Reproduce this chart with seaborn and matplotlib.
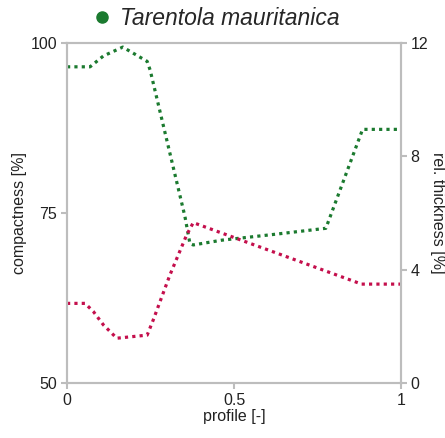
import matplotlib
matplotlib.use("Agg")
import matplotlib.pyplot as plt
import seaborn as sns
import pandas as pd
from matplotlib.lines import Line2D

# data
profile_c = [0.0, 0.069, 0.109, 0.167, 0.24, 0.249, 0.353, 0.368, 0.378, 0.463, 0.628, 0.775, 0.885, 1.0]
compactness = [96.5, 96.5, 98.1, 99.4, 97.3, 96.0, 74.5, 70.5, 70.3, 71.0, 71.9, 72.75, 87.3, 87.3]

profile_t = [0.0, 0.054, 0.079, 0.109, 0.149, 0.24, 0.258, 0.308, 0.358, 0.378, 0.882, 1.0]
thickness = [2.81, 2.81, 2.52, 2.05, 1.58, 1.69, 2.22, 3.81, 5.22, 5.66, 3.49, 3.49]

species = "Tarentola mauritanica"
x_ticks = [0, 0.5, 1]
x_ticklabels = ["0", "0.5", "1"]
left_ticks = [50, 75, 100]
right_ticks = [0, 4, 8, 12]

sns.set_style("white")
plt.rcParams['font.family'] = ['Liberation Sans', 'DejaVu Sans']

green = "#1b7a2f"
red = "#c40f4c"
grey = "#bdbdbd"

fig = plt.figure(figsize=(4.45, 4.38), dpi=100)
ax = fig.add_axes([0.1506, 0.1256, 0.7505, 0.7762])
ax2 = ax.twinx()

dfc = pd.DataFrame({"profile": profile_c, "compactness": compactness})
dft = pd.DataFrame({"profile": profile_t, "thickness": thickness})

sns.lineplot(data=dfc, x="profile", y="compactness", ax=ax, color=green,
             linewidth=2.3, linestyle=(0, (1, 1.3)), legend=False)
sns.lineplot(data=dft, x="profile", y="thickness", ax=ax2, color=red,
             linewidth=2.3, linestyle=(0, (1, 1.3)), legend=False)

ax.set_xlim(0, 1)
ax.set_ylim(50, 100)
ax2.set_ylim(0, 12)
ax.set_xticks(x_ticks)
ax.set_xticklabels(x_ticklabels)
ax.set_yticks(left_ticks)
ax2.set_yticks(right_ticks)

fs = 11.5
for a in (ax, ax2):
    for s in a.spines.values():
        s.set_color(grey)
        s.set_linewidth(1.5)
    a.tick_params(axis='both', direction='out', length=4, width=1.5, color=grey,
                  labelsize=fs, labelcolor='#222222', pad=3)

ax.set_xlabel("profile [-]", fontsize=fs, labelpad=1, color='#222222')
ax.set_ylabel("compactness [%]", fontsize=fs, labelpad=3, color='#222222')
ax2.set_ylabel("rel. thickness [%]", fontsize=fs, labelpad=12, rotation=270, color='#222222')
ax2.tick_params(axis='y', left=False, right=True)
ax.tick_params(axis='x', bottom=True)
ax.tick_params(axis='y', left=True)

handle = Line2D([], [], marker='o', color=green, linestyle='None', markersize=8)
leg = fig.legend([handle], [species], loc='center', bbox_to_anchor=(0.484, 0.958),
                 frameon=False, prop={'size': 16.5, 'style': 'italic'},
                 handletextpad=0.3, handlelength=1.0)

fig.savefig("out.png", dpi=100)
